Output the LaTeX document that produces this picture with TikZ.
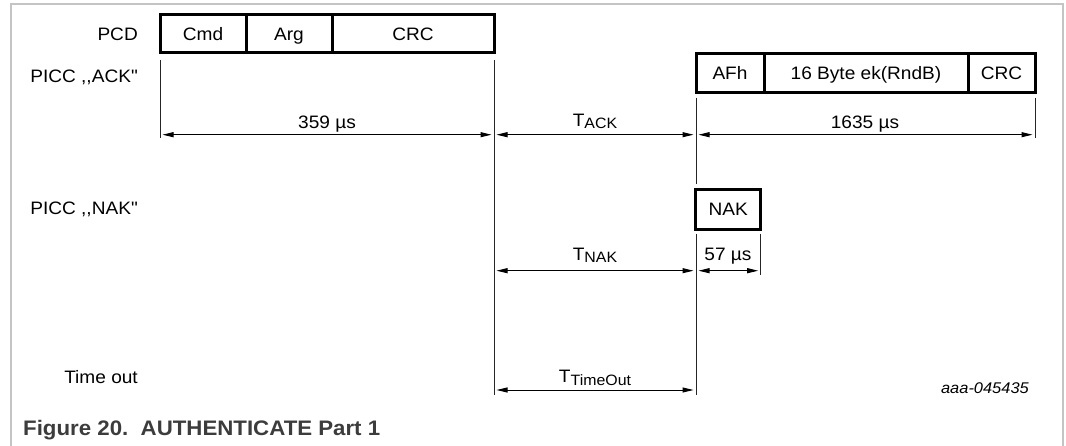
\documentclass[tikz,border=0pt]{standalone}
\usepackage{fontspec}
\setmainfont{Liberation Sans}[FakeStretch=1.06, Ligatures=TeXOff]
\usetikzlibrary{arrows.meta}
\definecolor{framegray}{HTML}{C4C4C4}
\definecolor{capgray}{HTML}{3C3C3C}
\newcommand{\lblfont}{\fontsize{18}{21}\selectfont}
\newcommand{\subsc}[1]{\raisebox{-2.5pt}{\fontsize{15}{15}\selectfont #1}}
\begin{document}
\begin{tikzpicture}[x=1pt,y=-1pt,
  txt/.style={font=\lblfont, inner sep=0pt, text height=13pt, text depth=0pt},
  lbl/.style={txt, anchor=east},
  dimlbl/.style={txt},
  field/.style={txt, draw, line width=3pt, anchor=center},
  dimarrow/.style={line width=1pt, {Triangle[length=11pt,width=5pt]}-{Triangle[length=11pt,width=5pt]}, shorten <=2.5pt, shorten >=2.5pt},
  tick/.style={line width=1pt, draw=black!85},
  frame/.style={draw=framegray, line width=1.5pt}]
\useasboundingbox (0,0) rectangle (1066,446);
\draw[frame] (11,446) -- (11,4) -- (1063,4) -- (1063,446);

% row labels
\node[lbl] (lpcd) at (138,34) {PCD};
\node[lbl] (lack) at (138,76) {PICC ,,ACK"};
\node[lbl] (lnak) at (138,208) {PICC ,,NAK"};
\node[lbl] (lto) at (138,377) {Time out};

% PCD frame
\node[field, minimum width=86pt, minimum height=38pt] (cmd) at (203,34) {Cmd};
\node[field, minimum width=86pt, minimum height=38pt] (arg) at (289,34) {Arg};
\node[field, minimum width=162pt, minimum height=38pt] (crc1) at (413,34) {CRC};

% PICC ACK frame
\node[field, minimum width=68pt, minimum height=39pt] (afh) at (730,72.8) {AFh};
\node[field, minimum width=204pt, minimum height=39pt] (ek) at (866,72.8) {16 Byte ek(RndB)};
\node[field, minimum width=67pt, minimum height=39pt] (crc2) at (1001.5,72.8) {CRC};

% PICC NAK frame
\node[field, minimum width=64.7pt, minimum height=40pt] (nak) at (728.3,209.3) {NAK};

% time marks
\coordinate (a0) at (160,60);   \coordinate (a1) at (160,138);
\coordinate (b0) at (494,60);   \coordinate (b1) at (494,395);
\coordinate (c0) at (696,98);   \coordinate (c1) at (696,184);
\coordinate (c2) at (696,234);  \coordinate (c3) at (696,395);
\coordinate (d0) at (1035,98);  \coordinate (d1) at (1035,138);
\coordinate (e0) at (760.7,234);\coordinate (e1) at (760.7,275);
\draw[tick] (a0) -- (a1);
\draw[tick] (b0) -- (b1);
\draw[tick] (c0) -- (c1);
\draw[tick] (c2) -- (c3);
\draw[tick] (d0) -- (d1);
\draw[tick] (e0) -- (e1);

% dimension arrows
\coordinate (r1a) at (160,134.7);  \coordinate (r1b) at (494,134.7);
\coordinate (r1c) at (696,134.7);  \coordinate (r1d) at (1035,134.7);
\coordinate (r2b) at (494,270.7);  \coordinate (r2c) at (696,270.7);
\coordinate (r2e) at (760.7,270.7);
\coordinate (r3b) at (494,390);    \coordinate (r3c) at (696,390);
\draw[dimarrow] (r1a) -- (r1b);
\draw[dimarrow] (r1b) -- (r1c);
\draw[dimarrow] (r1c) -- (r1d);
\draw[dimarrow] (r2b) -- (r2c);
\draw[dimarrow] (r2c) -- (r2e);
\draw[dimarrow] (r3b) -- (r3c);

\node[dimlbl] (t359) at (327,122) {359 µs};
\node[dimlbl] (tack) at (595,120) {T\subsc{ACK}};
\node[dimlbl] (t1635) at (865,122) {1635 µs};
\node[dimlbl] (tnak) at (595,254) {T\subsc{NAK}};
\node[dimlbl] (t57) at (728,254) {57 µs};
\node[dimlbl] (tto) at (595,376) {T\subsc{TimeOut}};

\node[font=\fontsize{15.5}{18}\selectfont\itshape, inner sep=0pt, anchor=east] (code) at (1029,388) {aaa-045435};
\node[font=\fontsize{21}{24}\selectfont\bfseries, text=capgray, inner sep=0pt, anchor=west] (cap) at (23,430) {Figure 20.\ \ AUTHENTICATE Part 1};
\end{tikzpicture}
\end{document}
